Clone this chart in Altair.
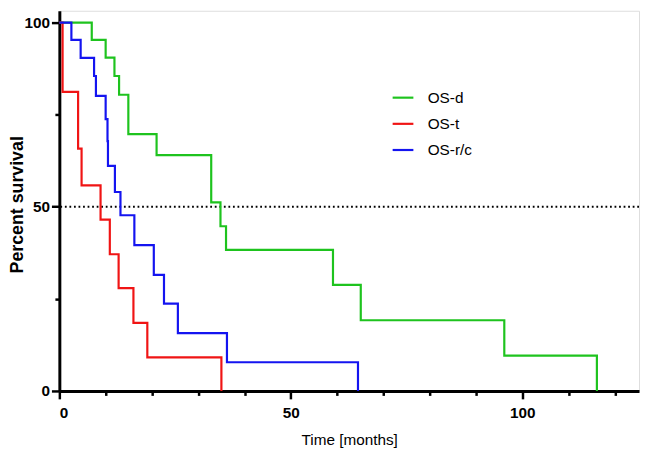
import altair as alt
import pandas as pd

groups = ["OS-d", "OS-t", "OS-r/c"]
colors = ["#1ec31e", "#f01414", "#1414f0"]

os_d_time = [0, 7.0, 10.0, 11.9, 12.9, 14.9, 21.0, 32.8, 34.8, 36.0, 59.1, 65.1, 96.1, 116.1]
os_d_surv = [100, 95.3, 90.5, 85.5, 80.4, 69.7, 64.0, 51.2, 44.7, 38.3, 28.8, 19.2, 9.6, 0]

os_t_time = [0, 0.7, 4.05, 4.8, 8.9, 10.9, 12.8, 16.0, 19.0, 35.0]
os_t_surv = [100, 81.2, 65.8, 55.8, 46.5, 37.1, 27.9, 18.5, 9.1, 0]

os_rc_time = [0, 2.6, 4.6, 7.5, 7.9, 10.0, 10.4, 10.5, 12.0, 13.2, 16.2, 20.4, 22.6, 25.6, 36.2, 64.5]
os_rc_surv = [100, 95.3, 90.4, 85.5, 80.1, 73.8, 67.8, 61.1, 54.0, 47.7, 39.6, 31.5, 23.7, 15.7, 7.8, 0]

x_major = [0, 50, 100]
x_minor = [10, 20, 30, 40, 60, 70, 80, 90, 110, 120]
y_major = [0, 50, 100]
y_minor = [25, 75]
median_line = [50]

rows = []
for g, ts, ss in [("OS-d", os_d_time, os_d_surv), ("OS-t", os_t_time, os_t_surv), ("OS-r/c", os_rc_time, os_rc_surv)]:
    for i, (t, s) in enumerate(zip(ts, ss)):
        rows.append({"group": g, "time": t, "surv": s, "order": i})
df = pd.DataFrame(rows)

FONT = "Liberation Sans"
xscale = alt.Scale(domain=[0, 125.2], nice=False, zero=False)
yscale = alt.Scale(domain=[0, 103.2], nice=False, zero=False)

lines = alt.Chart(df).mark_line(interpolate="step-after", strokeWidth=2.2).encode(
    x=alt.X("time:Q", scale=xscale,
            axis=alt.Axis(values=x_major, orient="bottom", title="Time [months]",
                          titleFont=FONT, titleFontSize=15.5, titleFontWeight="normal",
                          titleColor="black", titlePadding=12,
                          labelFont=FONT, labelFontSize=15.5, labelFontWeight="bold",
                          labelColor="black", labelPadding=7,
                          tickSize=8, tickWidth=2.5, tickColor="black",
                          domainColor="black", domainWidth=3, grid=False)),
    y=alt.Y("surv:Q", scale=yscale,
            axis=alt.Axis(values=y_major, orient="left", title="Percent survival",
                          titleFont=FONT, titleFontSize=18, titleFontWeight="bold",
                          titleColor="black", titleX=-37, titleY=196,
                          titleBaseline="alphabetic",
                          labelFont=FONT, labelFontSize=15.5, labelFontWeight="bold",
                          labelColor="black", labelPadding=2,
                          tickSize=8, tickWidth=2.5, tickColor="black",
                          domainColor="black", domainWidth=3, grid=False)),
    color=alt.Color("group:N", scale=alt.Scale(domain=groups, range=colors),
                    sort=groups,
                    legend=alt.Legend(orient="none", legendX=336, legendY=76, title=None,
                                      symbolType="stroke", symbolSize=441,
                                      symbolStrokeWidth=2.2, labelFont=FONT,
                                      labelFontSize=15.5, labelColor="black",
                                      labelOffset=13, rowPadding=5.5, padding=0)),
    order="order:Q",
    detail="group:N",
)

minor = alt.Chart(df).mark_line(opacity=0).encode(
    x=alt.X("time:Q", scale=xscale,
            axis=alt.Axis(values=x_minor, orient="bottom", title=None, labels=False,
                          tickSize=4.5, tickWidth=2.5, tickColor="black",
                          domain=False, grid=False)),
    y=alt.Y("surv:Q", scale=yscale,
            axis=alt.Axis(values=y_minor, orient="left", title=None, labels=False,
                          tickSize=4.5, tickWidth=2.5, tickColor="black",
                          domain=False, grid=False)),
    detail="group:N",
)

ref = alt.Chart(pd.DataFrame({"y": median_line})).mark_rule(
    color="black", strokeWidth=1.8, strokeDash=[1.8, 2.8]
).encode(y=alt.Y("y:Q", scale=yscale, axis=None))

chart = alt.layer(ref, minor, lines).resolve_axis(
    x="independent", y="independent"
).properties(
    width=587, height=385,
    autosize=alt.AutoSizeParams(type="none"),
    padding={"left": 52, "top": 0, "right": 2, "bottom": 57},
).configure_view(stroke=None).configure(background="white")

chart.save("out.html", embed_options={"renderer": "svg", "actions": False})
